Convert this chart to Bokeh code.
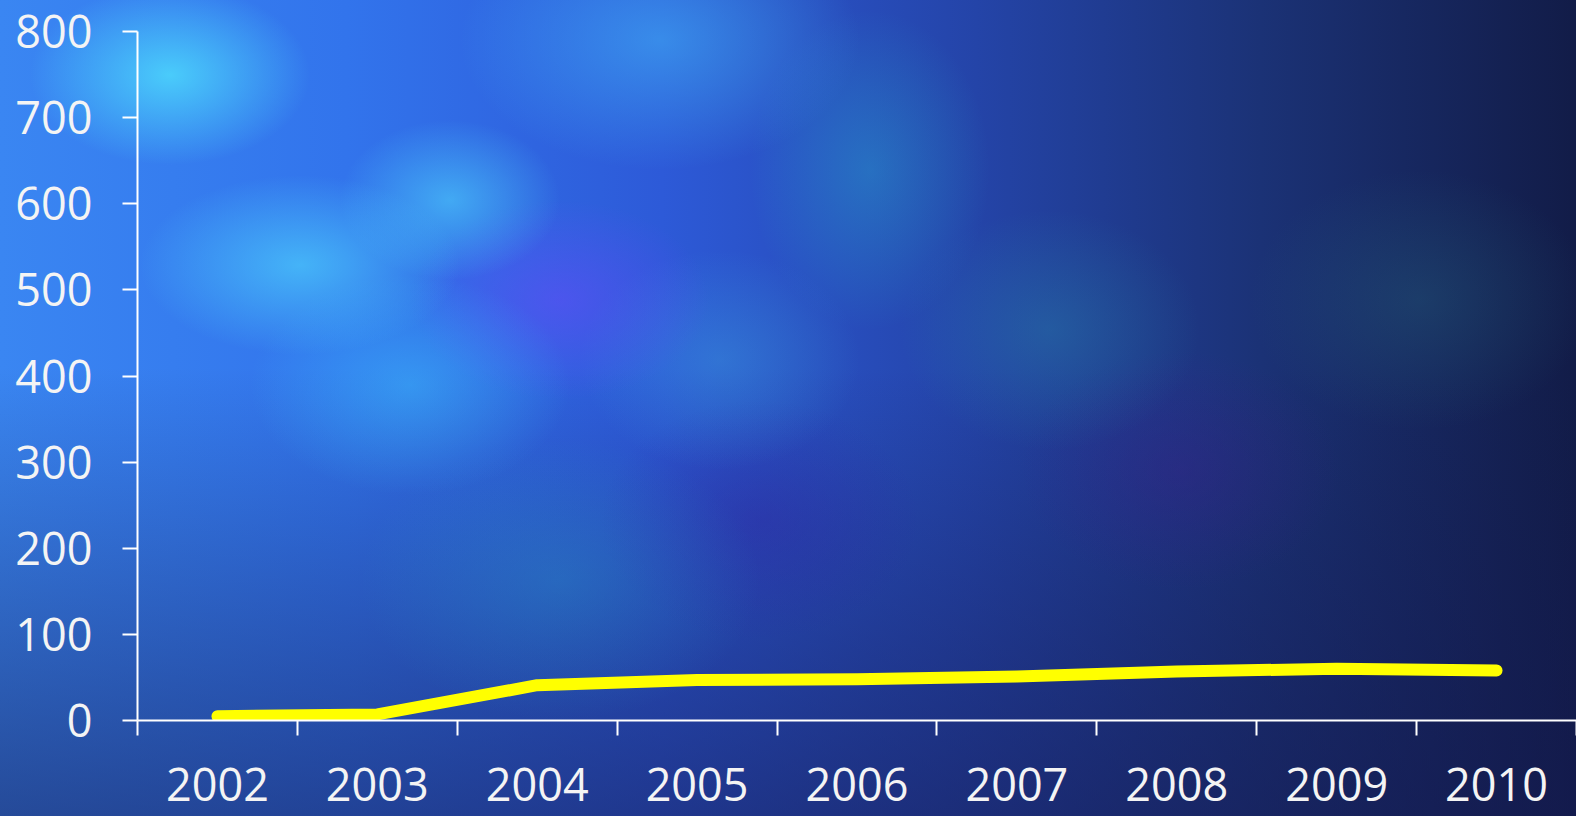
from bokeh.plotting import figure
from bokeh.models import Range1d, FixedTicker
from bokeh.embed import file_html
from bokeh.resources import INLINE

years = ["2002", "2003", "2004", "2005", "2006", "2007", "2008", "2009", "2010"]
values = [5, 7, 41, 47, 48, 51, 57, 60, 58]
y_ticks = [0, 100, 200, 300, 400, 500, 600, 700, 800]

xs = [i + 0.5 for i in range(len(years))]

p = figure(width=1576, height=816, output_backend="svg", toolbar_location=None,
           x_range=Range1d(0, len(years)), y_range=Range1d(0, 800),
           min_border_left=137, min_border_right=0, min_border_top=31, min_border_bottom=96)

p.styles = {
    "background-image": (
        "radial-gradient(ellipse 140px 90px at 170px 75px, rgba(80,230,255,0.75), rgba(80,230,255,0) 100%),"
        "radial-gradient(ellipse 160px 90px at 300px 265px, rgba(80,220,255,0.6), rgba(80,220,255,0) 100%),"
        "radial-gradient(ellipse 110px 80px at 450px 200px, rgba(80,220,255,0.55), rgba(80,220,255,0) 100%),"
        "radial-gradient(ellipse 160px 110px at 410px 385px, rgba(60,200,255,0.45), rgba(60,200,255,0) 100%),"
        "radial-gradient(ellipse 200px 130px at 660px 40px, rgba(70,200,255,0.45), rgba(70,200,255,0) 100%),"
        "radial-gradient(ellipse 120px 160px at 870px 170px, rgba(40,180,210,0.35), rgba(40,180,210,0) 100%),"
        "radial-gradient(ellipse 150px 100px at 560px 300px, rgba(110,70,255,0.45), rgba(110,70,255,0) 100%),"
        "radial-gradient(ellipse 140px 110px at 720px 360px, rgba(60,170,220,0.35), rgba(60,170,220,0) 100%),"
        "radial-gradient(ellipse 150px 120px at 1050px 330px, rgba(40,140,170,0.35), rgba(40,140,170,0) 100%),"
        "radial-gradient(ellipse 160px 120px at 1180px 470px, rgba(60,30,140,0.35), rgba(60,30,140,0) 100%),"
        "radial-gradient(ellipse 170px 130px at 1420px 300px, rgba(40,110,130,0.3), rgba(40,110,130,0) 100%),"
        "radial-gradient(ellipse 200px 140px at 560px 580px, rgba(40,150,200,0.35), rgba(40,150,200,0) 100%),"
        "radial-gradient(ellipse 160px 120px at 760px 520px, rgba(50,30,160,0.35), rgba(50,30,160,0) 100%),"
        "linear-gradient(to bottom, rgba(10,15,60,0) 45%, rgba(20,25,80,0.55) 100%),"
        "linear-gradient(to right, #3a86f2 0%, #3274ec 22%, #2d5ad8 42%, #2444a8 62%, #1b3276 80%, #121c48 100%)"
    )
}
p.border_fill_alpha = 0
p.background_fill_alpha = 0
p.outline_line_color = None
p.grid.visible = False

p.line(xs, values, line_color="#ffff00", line_width=12, line_cap="round", line_join="round")

font = "Open Sans"

xa = p.xaxis[0]
xa.ticker = FixedTicker(ticks=xs, minor_ticks=list(range(len(years) + 1)))
xa.major_label_overrides = {x: y for x, y in zip(xs, years)}
xa.major_tick_out = 0
xa.major_tick_in = 0
xa.minor_tick_out = 15
xa.minor_tick_in = 0
xa.minor_tick_line_color = "white"
xa.minor_tick_line_width = 2
xa.axis_line_color = "white"
xa.axis_line_width = 2
xa.major_label_standoff = 32
xa.major_label_text_color = "#f4f4f4"
xa.major_label_text_font = font
xa.major_label_text_font_size = "45px"

ya = p.yaxis[0]
ya.ticker = FixedTicker(ticks=y_ticks)
ya.major_tick_out = 15
ya.major_tick_in = 0
ya.minor_tick_line_color = None
ya.major_tick_line_color = "white"
ya.major_tick_line_width = 2
ya.axis_line_color = "white"
ya.axis_line_width = 2
ya.major_label_standoff = 30
ya.major_label_text_color = "#f4f4f4"
ya.major_label_text_font = font
ya.major_label_text_font_size = "45px"

open("out.html", "w").write(file_html(p, INLINE))
